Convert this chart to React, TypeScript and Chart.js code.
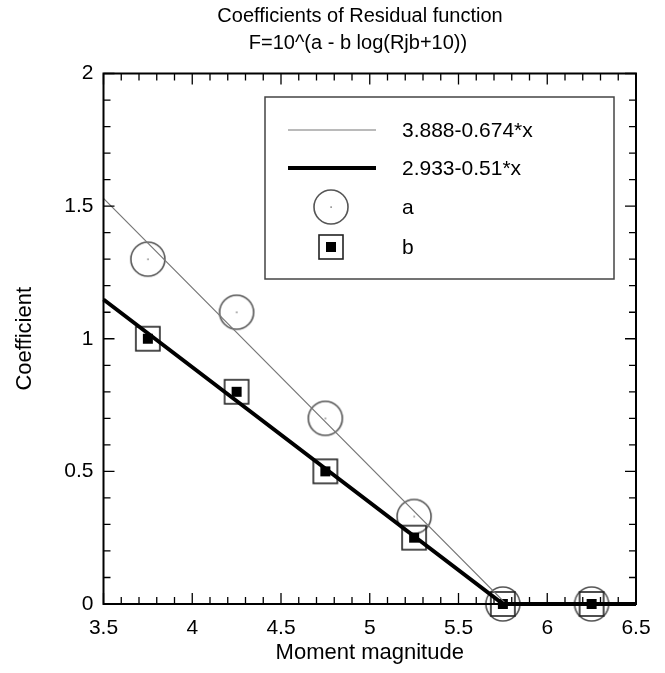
import React, { useEffect, useRef } from "react";
import { Chart, registerables } from "chart.js";

Chart.register(...registerables);

const FONT = 'Arial, "Liberation Sans", Helvetica, sans-serif';

// Data
const magnitudes = [3.75, 4.25, 4.75, 5.25, 5.75, 6.25];
const coefA = [1.3, 1.1, 0.7, 0.33, 0, 0];
const coefB = [1.0, 0.8, 0.5, 0.25, 0, 0];
const fitAX = [3.5, 5.768, 6.5];
const fitAY = [1.529, 0, 0];
const fitBX = [3.5, 5.751, 6.5];
const fitBY = [1.148, 0, 0];
const titleLines = ["Coefficients of Residual function", "F=10^(a - b log(Rjb+10))"];
const legendLabels = ["3.888-0.674*x", "2.933-0.51*x", "a", "b"];
const xTitle = "Moment magnitude";
const yTitle = "Coefficient";

function makeCircle(): HTMLCanvasElement {
  const c = document.createElement("canvas");
  c.width = 38;
  c.height = 38;
  const g = c.getContext("2d")!;
  g.strokeStyle = "#555";
  g.lineWidth = 1.6;
  g.beginPath();
  g.arc(19, 19, 17, 0, Math.PI * 2);
  g.stroke();
  g.fillStyle = "#333";
  g.fillRect(18.5, 18.5, 1.2, 1.2);
  return c;
}

function makeSquare(): HTMLCanvasElement {
  const c = document.createElement("canvas");
  c.width = 28;
  c.height = 28;
  const g = c.getContext("2d")!;
  g.strokeStyle = "#222";
  g.lineWidth = 1.6;
  g.strokeRect(2, 2, 24, 24);
  g.fillStyle = "#000";
  g.fillRect(9, 9, 10, 10);
  return c;
}

const fmt = (v: any) => String(Number(v));

export default function App() {
  const ref = useRef<HTMLCanvasElement>(null);

  useEffect(() => {
    const circleImg = makeCircle();
    const squareImg = makeSquare();

    const decor = {
      id: "decor",
      afterDraw(chart: any) {
        const ctx = chart.ctx as CanvasRenderingContext2D;
        const { left, right, top, bottom } = chart.chartArea;
        const xs = chart.scales.x;
        const ys = chart.scales.y;
        ctx.save();
        // frame
        ctx.strokeStyle = "#000";
        ctx.lineWidth = 2;
        ctx.strokeRect(left, top, right - left, bottom - top);
        // ticks
        ctx.lineWidth = 1.3;
        ctx.beginPath();
        for (let i = 35; i <= 65; i++) {
          const x = xs.getPixelForValue(i / 10);
          const len = i % 5 === 0 ? 11 : 7;
          ctx.moveTo(x, bottom);
          ctx.lineTo(x, bottom - len);
          ctx.moveTo(x, top);
          ctx.lineTo(x, top + len);
        }
        for (let i = 0; i <= 20; i++) {
          const y = ys.getPixelForValue(i / 10);
          const len = i % 5 === 0 ? 11 : 7;
          ctx.moveTo(left, y);
          ctx.lineTo(left + len, y);
          ctx.moveTo(right, y);
          ctx.lineTo(right - len, y);
        }
        ctx.stroke();

        // title
        ctx.fillStyle = "#000";
        ctx.font = `20px ${FONT}`;
        ctx.textAlign = "center";
        ctx.textBaseline = "middle";
        ctx.fillText(titleLines[0], 360, 16);
        ctx.fillText(titleLines[1], 358, 43);

        // legend
        ctx.fillStyle = "#fff";
        ctx.fillRect(265, 97, 349, 182);
        ctx.strokeStyle = "#444";
        ctx.lineWidth = 1.5;
        ctx.strokeRect(265, 97, 349, 182);
        ctx.strokeStyle = "#777";
        ctx.lineWidth = 1.2;
        ctx.beginPath();
        ctx.moveTo(288, 130);
        ctx.lineTo(376, 130);
        ctx.stroke();
        ctx.strokeStyle = "#000";
        ctx.lineWidth = 4;
        ctx.beginPath();
        ctx.moveTo(288, 168);
        ctx.lineTo(376, 168);
        ctx.stroke();
        ctx.drawImage(circleImg, 331 - 19, 207 - 19);
        ctx.drawImage(squareImg, 331 - 14, 247 - 14);
        ctx.fillStyle = "#000";
        ctx.font = `21px ${FONT}`;
        ctx.textAlign = "left";
        ctx.fillText(legendLabels[0], 402, 131);
        ctx.fillText(legendLabels[1], 402, 169);
        ctx.fillText(legendLabels[2], 402, 208);
        ctx.fillText(legendLabels[3], 402, 248);
        ctx.restore();
      },
    };

    const chart = new Chart(ref.current!, {
      type: "scatter",
      data: {
        datasets: [
          {
            label: legendLabels[1],
            data: fitBX.map((x, i) => ({ x, y: fitBY[i] })),
            showLine: true,
            borderColor: "#000",
            borderWidth: 4,
            pointRadius: 0,
            clip: false,
          },
          {
            label: legendLabels[0],
            data: fitAX.map((x, i) => ({ x, y: fitAY[i] })),
            showLine: true,
            borderColor: "#777",
            borderWidth: 1.2,
            pointRadius: 0,
            clip: false,
          },
          {
            label: legendLabels[3],
            data: magnitudes.map((x, i) => ({ x, y: coefB[i] })),
            pointStyle: squareImg,
            pointRadius: 14,
            clip: false,
          },
          {
            label: legendLabels[2],
            data: magnitudes.map((x, i) => ({ x, y: coefA[i] })),
            pointStyle: circleImg,
            pointRadius: 17,
            clip: false,
          },
        ] as any,
      },
      options: {
        animation: false,
        responsive: false,
        maintainAspectRatio: false,
        layout: { padding: { left: 0, right: 29, top: 73.5, bottom: 0 } },
        plugins: {
          legend: { display: false },
          title: { display: false },
          tooltip: { enabled: false },
        },
        scales: {
          x: {
            type: "linear",
            min: 3.5,
            max: 6.5,
            grid: { display: false, drawTicks: false },
            border: { display: false },
            ticks: {
              stepSize: 0.5,
              color: "#000",
              padding: 12,
              font: { family: FONT, size: 21 },
              callback: fmt,
            },
            title: {
              display: true,
              text: xTitle,
              color: "#000",
              font: { family: FONT, size: 22 },
              padding: { top: 0, bottom: 7 },
            },
            afterFit(scale: any) {
              scale.height = 69;
            },
          },
          y: {
            type: "linear",
            min: 0,
            max: 2,
            grid: { display: false, drawTicks: false },
            border: { display: false },
            ticks: {
              stepSize: 0.5,
              color: "#000",
              padding: 10,
              font: { family: FONT, size: 21 },
              callback: fmt,
            },
            title: {
              display: true,
              text: yTitle,
              color: "#000",
              font: { family: FONT, size: 22 },
              padding: { top: 12, bottom: 0 },
            },
            afterFit(scale: any) {
              scale.width = 103.5;
            },
          },
        },
      },
      plugins: [decor],
    });
    return () => chart.destroy();
  }, []);

  return (
    <div style={{ position: "fixed", left: 0, top: 0, width: 665, height: 673, background: "#fff" }}>
      <canvas ref={ref} width={665} height={673} style={{ display: "block" }} />
    </div>
  );
}
